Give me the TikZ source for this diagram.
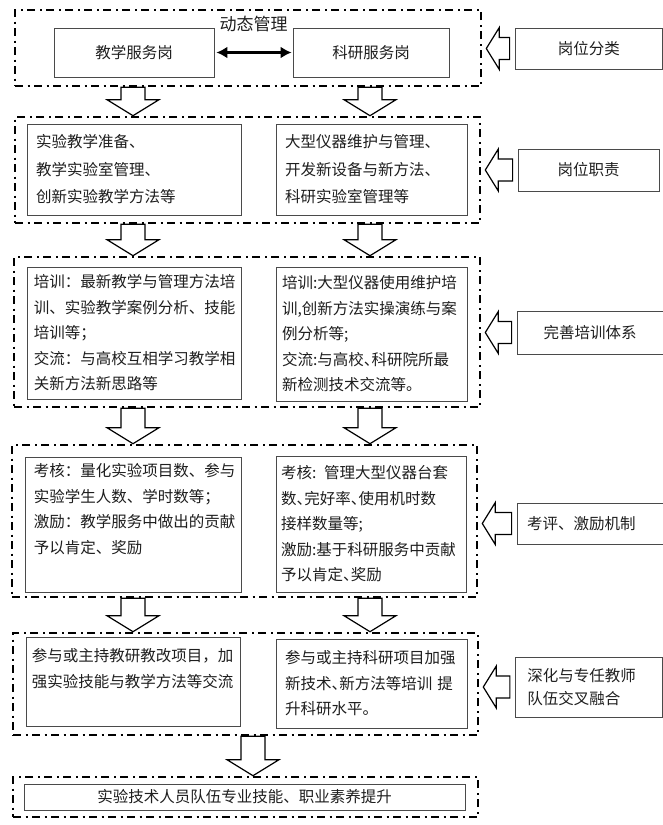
\documentclass[tikz,border=0pt]{standalone}
\usepackage{fontspec}
\setmainfont{Noto Sans CJK SC}
\newfontfamily\cjkhalf[RawFeature=+halt]{Noto Sans CJK SC}
\usepackage{tikz}
\usetikzlibrary{arrows.meta,calc,positioning}
\definecolor{Ink}{HTML}{1E1E1E}
\definecolor{Frame}{HTML}{4A4A4A}
\newcommand{\cjkbody}{\fontsize{15.5pt}{25.5pt}\selectfont}
\newcommand{\cjkwide}{\fontsize{15.5pt}{27.5pt}\selectfont}
\tikzset{
  grp/.style={draw=black,line width=2.6pt,dash pattern=on 8pt off 4.5pt on 2pt off 4.5pt,inner sep=0pt},
  cell/.style={draw=Frame,line width=0.8pt,fill=white,text=Ink,inner sep=0pt,font=\cjkbody},
  celltext/.style={cell,align=left,inner ysep=0pt},
  plain/.style={text=Ink,inner sep=0pt,align=left,font=\cjkbody},
  tag/.style={draw=Frame,line width=0.8pt,text=Ink,inner sep=0pt,font=\cjkbody},
  blockarrow/.style={draw=black,line width=1.2pt,fill=white,line join=miter},
  duplex/.style={{Latex[length=11pt,width=12pt]}-{Latex[length=11pt,width=12pt]},line width=2.6pt,draw=black}
}
% hollow arrow downwards: upper group, lower group, column
\newcommand{\blockdown}[3]{%
  \draw[blockarrow] ($(#1.south -| #3)+(-12,0)$) -- ($(#2.north -| #3)+(-12,-16)$)
    -- ($(#2.north -| #3)+(-26,-16)$) -- (#2.north -| #3) -- ($(#2.north -| #3)+(26,-16)$)
    -- ($(#2.north -| #3)+(12,-16)$) -- ($(#1.south -| #3)+(12,0)$) -- cycle;}
% hollow arrow to the left: tag, group
\newcommand{\blockleft}[2]{%
  \draw[blockarrow] ($(#1.west)+(-5,-11)$) -- ($(#2.east |- #1.west)+(17,-11)$)
    -- ($(#2.east |- #1.west)+(17,-21)$) -- ($(#2.east |- #1.west)+(4,0)$)
    -- ($(#2.east |- #1.west)+(17,21)$) -- ($(#2.east |- #1.west)+(17,11)$)
    -- ($(#1.west)+(-5,11)$) -- cycle;}

\begin{document}
\begin{tikzpicture}[x=1pt,y=-1pt]
  \useasboundingbox (0,0) rectangle (663,825);
  \coordinate (colL) at (133,0);
  \coordinate (colR) at (370,0);
  \coordinate (colM) at (253,0);

  % groups
  \node[grp,minimum width=466pt,minimum height=76pt] (g1) at (248,48) {};
  \node[grp,minimum width=465pt,minimum height=106pt] (g2) at (247.5,170) {};
  \node[grp,minimum width=466pt,minimum height=150pt] (g3) at (247,332) {};
  \node[grp,minimum width=465pt,minimum height=152pt] (g4) at (244.5,521) {};
  \node[grp,minimum width=465pt,minimum height=102pt] (g5) at (245.5,684) {};
  \node[grp,minimum width=465pt,minimum height=40pt] (g6) at (245.5,797) {};

  % row 1
  \node[cell,minimum width=160pt,minimum height=49pt] (jx) at (134,52.5) {教学服务岗};
  \node[cell,minimum width=156pt,minimum height=49pt] (ky) at (371,52.5) {科研服务岗};
  \draw[duplex,shorten <=2pt,shorten >=1pt] (jx) -- (ky)
    node[midway,above=19pt,inner sep=0pt,font=\fontsize{17pt}{20pt}\selectfont,text=Ink] (dt) {动态管理};

  % row 2
  \node[celltext,font=\cjkwide,inner xsep=9pt,text width=196pt,minimum height=91pt] (jx2) at (134,169.5)
    {实验教学准备、\\教学实验室管理、\\创新实验教学方法等};
  \node[celltext,font=\cjkwide,inner xsep=9pt,text width=173pt,minimum height=91pt] (ky2) at (371.5,169.5)
    {大型仪器维护与管理、\\开发新设备与新方法、\\科研实验室管理等};

  % row 3
  \node[celltext,inner xsep=7pt,text width=200pt,minimum height=132pt] (jx3) at (134,333)
    {培训：最新教学与管理方法培\\训、实验教学案例分析、技能\\培训等；\\交流：与高校互相学习教学相\\关新方法新思路等};
  \node[celltext,inner xsep=6pt,text width=179pt,minimum height=134pt] (ky3) at (371.5,334)
    {\cjkhalf 培训:大型仪器使用维护培\\训,创新方法实操演练与案\\例分析等;\\交流:与高校、科研院所最\\新检测技术交流等。};

  % row 4
  \node[cell,minimum width=216pt,minimum height=135pt] (jx4) at (133,524.5) {};
  \node[plain,anchor=north west,text width=198pt] (jx4t) at ($(jx4.north west)+(9,7)$)
    {考核：量化实验项目数、参与\\实验学生人数、学时数等；\\激励：教学服务中做出的贡献\\予以肯定、奖励};
  \node[celltext,inner xsep=5pt,text width=180pt,minimum height=136pt] (ky4) at (371,524)
    {\cjkhalf 考核: 管理大型仪器台套\\数、完好率、使用机时数\\接样数量等;\\激励:基于科研服务中贡献\\予以肯定、奖励};

  % row 5
  \node[cell,minimum width=214pt,minimum height=89pt] (jx5) at (133,681.5) {};
  \node[plain,anchor=north west,text width=202pt] (jx5t) at ($(jx5.north west)+(6,12)$)
    {参与或主持教研教改项目，加\\强实验技能与教学方法等交流};
  \node[celltext,inner xsep=9pt,text width=173pt,minimum height=89pt] (ky5) at (371.5,683.5)
    {\cjkhalf 参与或主持科研项目加强\\新技术、新方法等培训 提\\升科研水平。};

  % result
  \node[cell,minimum width=441pt,minimum height=26pt] (res) at (244.5,797) {实验技术人员队伍专业技能、职业素养提升};

  % side tags
  \node[tag,minimum width=147.5pt,minimum height=41pt] (t1) at (588.75,48.5) {岗位分类};
  \node[tag,minimum width=141pt,minimum height=42pt] (t2) at (588.5,170) {岗位职责};
  \node[tag,minimum width=146pt,minimum height=43pt] (t3) at (590,332.5) {完善培训体系};
  \node[tag,align=left,inner xsep=10pt,text width=126pt,minimum height=41pt] (t4) at (590,523.5) {考评、激励机制};
  \node[tag,align=left,inner xsep=12pt,text width=123.5pt,minimum height=60pt,
        font=\fontsize{15.5pt}{23pt}\selectfont] (t5) at (589,687) {深化与专任教师\\队伍交叉融合};

  % hollow arrows
  \blockdown{g1}{g2}{colL}
  \blockdown{g1}{g2}{colR}
  \blockdown{g2}{g3}{colL}
  \blockdown{g2}{g3}{colR}
  \blockdown{g3}{g4}{colL}
  \blockdown{g3}{g4}{colR}
  \blockdown{g4}{g5}{colL}
  \blockdown{g4}{g5}{colR}
  \blockdown{g5}{g6}{colM}
  \blockleft{t1}{g1}
  \blockleft{t2}{g2}
  \blockleft{t3}{g3}
  \blockleft{t4}{g4}
  \blockleft{t5}{g5}
\end{tikzpicture}
\end{document}
